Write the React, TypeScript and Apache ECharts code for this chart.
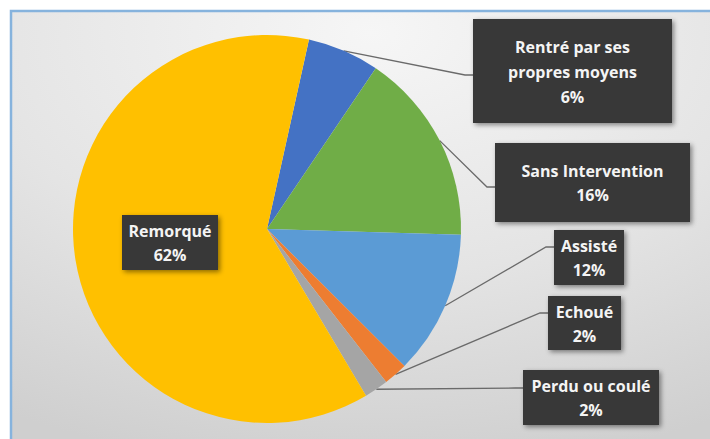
import React, { useEffect, useRef } from "react";
import * as echarts from "echarts";

// ---- Data ----
const categories = [
  "Rentré par ses\npropres moyens",
  "Sans Intervention",
  "Assisté",
  "Echoué",
  "Perdu ou coulé",
  "Remorqué",
];
const percents = [6, 16, 12, 2, 2, 62];

// ---- Styles / layout ----
const sliceColors = ["#4472C4", "#70AD47", "#5B9BD5", "#ED7D31", "#A5A5A5", "#FFC000"];
const PIE_CENTER = [267, 229];
const PIE_RADIUS = 194;
const FIRST_SLICE_OFFSET = 12.5; // degrees clockwise from 12 o'clock

// label boxes: left, top, width, height, lineHeight, top padding, leader attach y
const labelBoxes = [
  { x: 473, y: 19, w: 199, h: 104, lh: 25, pt: 15, attachY: 75 },
  { x: 495, y: 143, w: 195, h: 79, lh: 24, pt: 16, attachY: 187 },
  { x: 554, y: 230, w: 70, h: 55, lh: 24, pt: 4, attachY: 247 },
  { x: 548, y: 296, w: 73, h: 54, lh: 24, pt: 4, attachY: 313 },
  { x: 523, y: 370, w: 136, h: 55, lh: 24, pt: 4, attachY: 388 },
  { x: 122, y: 215, w: 96, h: 55, lh: 24, pt: 4, attachY: null as number | null },
];

export default function App() {
  const ref = useRef<HTMLDivElement>(null);

  useEffect(() => {
    if (!ref.current) return;
    const chart = echarts.init(ref.current, null, { renderer: "svg" });

    const total = percents.reduce((a, b) => a + b, 0);
    const midAngles: number[] = [];
    let acc = 0;
    percents.forEach((v) => {
      midAngles.push(FIRST_SLICE_OFFSET + ((acc + v / 2) / total) * 360);
      acc += v;
    });

    const data = categories.map((name, i) => {
      const b = labelBoxes[i];
      const nLines = name.split("\n").length + 1;
      const pb = b.h - b.pt - nLines * b.lh;
      return {
        name,
        value: percents[i],
        itemStyle: { color: sliceColors[i] },
        label: {
          width: b.w,
          lineHeight: b.lh,
          padding: [b.pt, 0, pb, 0],
        },
        labelLine: { show: b.attachY != null },
      };
    });

    chart.setOption({
      animation: false,
      backgroundColor: "#ffffff",
      graphic: [
        {
          type: "rect",
          z: -10,
          silent: true,
          shape: { x: 11, y: 11, width: 720, height: 440 },
          style: {
            fill: {
              type: "radial",
              x: 0.5,
              y: 0.05,
              r: 1.0,
              colorStops: [
                { offset: 0, color: "#f6f6f6" },
                { offset: 0.55, color: "#e4e4e4" },
                { offset: 1, color: "#cfcfcf" },
              ],
            },
            stroke: "#86b3dd",
            lineWidth: 2.5,
          },
        },
      ],
      series: [
        {
          type: "pie",
          center: PIE_CENTER,
          radius: PIE_RADIUS,
          startAngle: 90 - FIRST_SLICE_OFFSET,
          clockwise: true,
          avoidLabelOverlap: false,
          itemStyle: { borderWidth: 0 },
          emphasis: { disabled: true },
          label: {
            show: true,
            position: "outside",
            formatter: "{b}\n{d}%",
            color: "#f4f4f4",
            fontFamily: "Open Sans",
            fontWeight: "bold",
            fontSize: 16,
            align: "center",
            backgroundColor: "#393939",
            shadowColor: "rgba(0,0,0,0.45)",
            shadowBlur: 5,
            shadowOffsetX: 2,
            shadowOffsetY: 2,
          },
          labelLine: {
            show: true,
            lineStyle: { color: "#6a6a6a", width: 1.3 },
          },
          labelLayout: (params: any) => {
            const i = params.dataIndex;
            const b = labelBoxes[i];
            const res: any = {
              x: b.x + b.w / 2,
              y: b.y,
              align: "center",
              verticalAlign: "top",
            };
            if (b.attachY != null) {
              const a = (midAngles[i] * Math.PI) / 180;
              const ax = PIE_CENTER[0] + PIE_RADIUS * Math.sin(a);
              const ay = PIE_CENTER[1] - PIE_RADIUS * Math.cos(a);
              res.labelLinePoints = [
                [ax, ay],
                [b.x - 8, b.attachY],
                [b.x, b.attachY],
              ];
            }
            return res;
          },
          data,
        },
      ],
    });

    return () => chart.dispose();
  }, []);

  return (
    <div
      ref={ref}
      style={{ position: "absolute", left: 0, top: 0, width: 710, height: 439 }}
    />
  );
}
